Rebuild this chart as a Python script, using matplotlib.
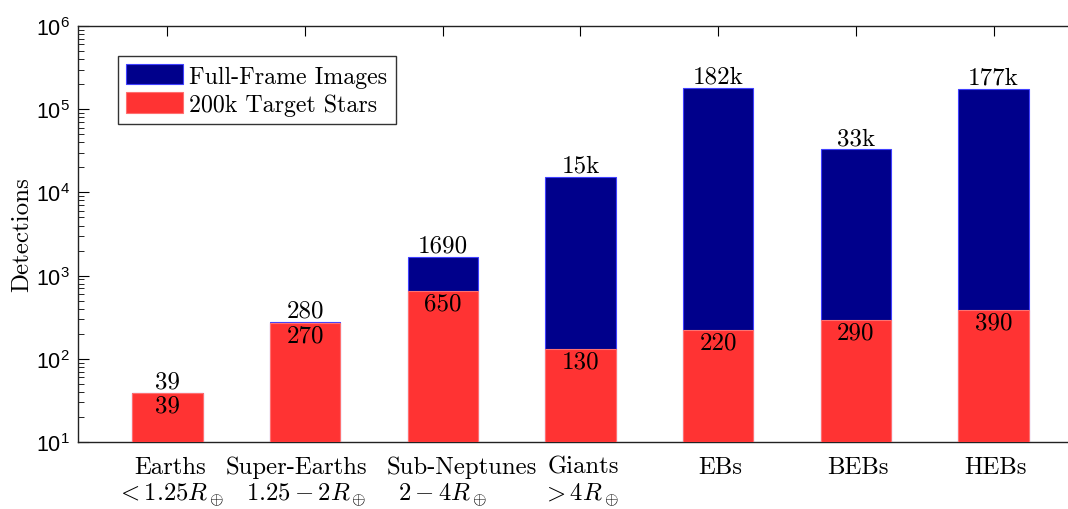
import matplotlib
matplotlib.use('Agg')
import matplotlib.pyplot as plt
import matplotlib.transforms as mtransforms
import numpy as np

categories = ['Earths', 'Super-Earths', 'Sub-Neptunes', 'Giants', 'EBs', 'BEBs', 'HEBs']
radius_ranges = ['$<1.25R_\\oplus$', '$1.25-2R_\\oplus$', '$2-4R_\\oplus$', '$>4R_\\oplus$', '', '', '']
ffi_total = [39, 280, 1690, 15500, 182000, 33000, 177000]
ffi_labels = ['39', '280', '1690', '15k', '182k', '33k', '177k']
target_stars = [39, 270, 650, 130, 220, 290, 390]
target_labels = ['39', '270', '650', '130', '220', '290', '390']

# pixel nudges of the category labels (two of them are pushed apart in the original)
line1_dx = [3, -9, 19, 3, 2, 2, 2]
line2_dx = [3, 1, 0, 0, 0, 0, 0]

plt.rcParams['font.family'] = 'cmr10'
plt.rcParams['mathtext.fontset'] = 'cm'
plt.rcParams['axes.formatter.use_mathtext'] = True

fig = plt.figure(figsize=(10.68, 5.10), dpi=100)
# right edge of the axes runs past the picture, like the reference
ax = fig.add_axes([78/1068, 1-443/510, 1005/1068, 416/510])

x = np.arange(1, len(categories)+1)
w = 0.51
bottom = 10

ax.bar(x, np.array(ffi_total) - bottom, w, bottom=bottom, color='#00008b',
       edgecolor='#4040ff', linewidth=0.8, label='Full-Frame Images', zorder=2)
ax.bar(x, np.array(target_stars) - bottom, w, bottom=bottom, color='#ff3333',
       edgecolor='#ff7070', linewidth=0.8, label='200k Target Stars', zorder=3)

for i in range(len(x)):
    ax.annotate(ffi_labels[i], (x[i], ffi_total[i]), xytext=(0, 0),
                textcoords='offset points', ha='center', va='bottom', fontsize=18)
    ax.annotate(target_labels[i], (x[i], target_stars[i]), xytext=(0, -1),
                textcoords='offset points', ha='center', va='top', fontsize=18, zorder=4)

ax.set_yscale('log')
ax.set_ylim(10, 1e6)
ax.set_xlim(0.35, 7.65)
ax.set_xticks(x)
ax.set_xticklabels([])
ax.tick_params(axis='x', which='both', direction='in', top=True, length=7)
ax.tick_params(axis='y', which='major', direction='in', length=8, pad=6)
ax.tick_params(axis='y', which='minor', direction='in', length=4)
for lab in ax.get_yticklabels():
    lab.set_fontfamily('Liberation Sans')
    lab.set_fontsize(15.5)
ax.set_ylabel('Detections', fontsize=18)
ax.yaxis.set_label_coords(-45/1005, 0.5)

# category labels, two lines each
trans = ax.get_xaxis_transform()
for i in range(len(x)):
    t1 = mtransforms.offset_copy(trans, fig=fig, x=line1_dx[i], y=-31, units='dots')
    ax.text(x[i], 0, categories[i], transform=t1, ha='center', va='baseline',
            fontsize=17.8, clip_on=False)
    if radius_ranges[i]:
        t2 = mtransforms.offset_copy(trans, fig=fig, x=line2_dx[i], y=-58, units='dots')
        ax.text(x[i], 0, radius_ranges[i], transform=t2, ha='center', va='baseline',
                fontsize=17.8, clip_on=False)

leg = ax.legend(loc='upper left', bbox_to_anchor=(40/1005, 1-30/416), fontsize=17.2,
                handlelength=2.38, handleheight=0.92, frameon=True, fancybox=False,
                edgecolor='black', borderpad=0.35, labelspacing=0.2, handletextpad=0.25,
                borderaxespad=0)
leg.get_frame().set_linewidth(1.0)

for s in ax.spines.values():
    s.set_linewidth(1.0)
    s.set_color('#222222')
ax.spines['right'].set_visible(False)

fig.savefig('out.png', dpi=100)
